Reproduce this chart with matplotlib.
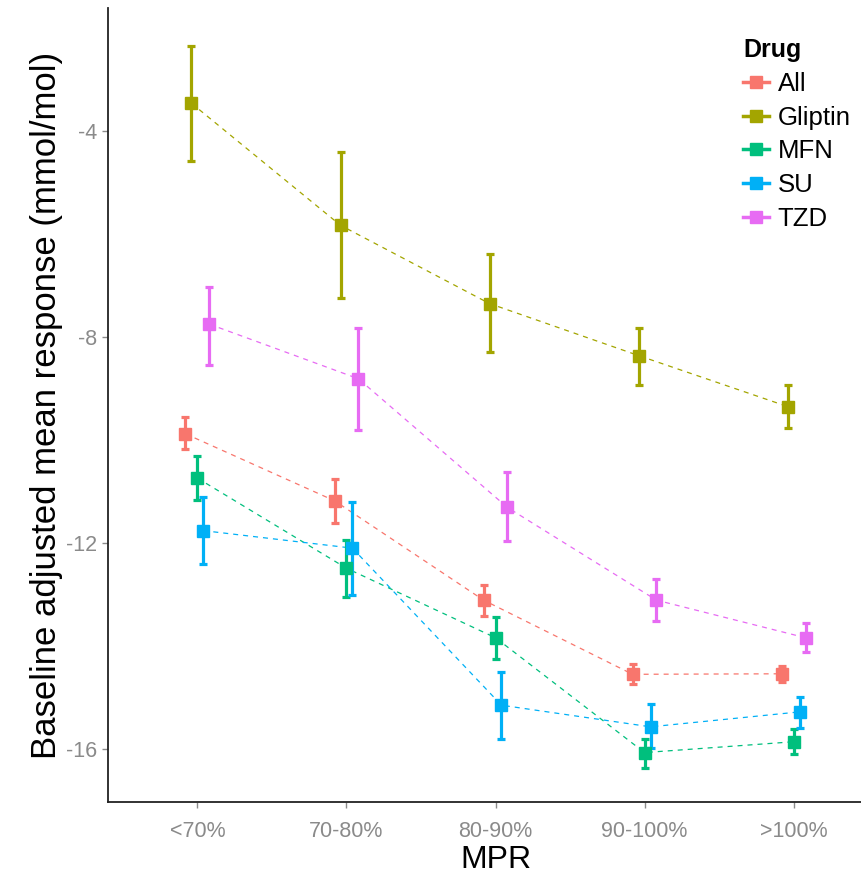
import matplotlib.pyplot as plt
import numpy as np
from matplotlib.lines import Line2D

plt.rcParams['font.family'] = ['Liberation Sans', 'DejaVu Sans']
plt.rcParams['axes.unicode_minus'] = False

# MPR categories and drug groups
mpr = ['<70%', '70-80%', '80-90%', '90-100%', '>100%']
drugs = ['All', 'Gliptin', 'MFN', 'SU', 'TZD']
colors = ['#F8766D', '#A3A500', '#00BF7D', '#00B0F6', '#E76BF3']

# adjusted mean response and interval limits per drug
all_mean = [-9.88, -11.18, -13.11, -14.55, -14.54]
all_lo = [-10.18, -11.62, -13.41, -14.74, -14.70]
all_hi = [-9.55, -10.76, -12.82, -14.35, -14.39]

gliptin_mean = [-3.46, -5.83, -7.35, -8.36, -9.35]
gliptin_lo = [-4.58, -7.24, -8.30, -8.93, -9.77]
gliptin_hi = [-2.35, -4.41, -6.39, -7.83, -8.93]

mfn_mean = [-10.74, -12.49, -13.84, -16.07, -15.86]
mfn_lo = [-11.17, -13.04, -14.25, -16.36, -16.10]
mfn_hi = [-10.32, -11.94, -13.44, -15.80, -15.61]

su_mean = [-11.76, -12.10, -15.15, -15.57, -15.28]
su_lo = [-12.41, -13.01, -15.81, -15.99, -15.59]
su_hi = [-11.10, -11.20, -14.51, -15.13, -14.99]

tzd_mean = [-7.75, -8.81, -11.31, -13.11, -13.84]
tzd_lo = [-8.54, -9.81, -11.97, -13.51, -14.11]
tzd_hi = [-7.02, -7.82, -10.62, -12.70, -13.56]

means = [all_mean, gliptin_mean, mfn_mean, su_mean, tzd_mean]
lows = [all_lo, gliptin_lo, mfn_lo, su_lo, tzd_lo]
highs = [all_hi, gliptin_hi, mfn_hi, su_hi, tzd_hi]

fig = plt.figure(figsize=(8.62, 8.77), dpi=100)
ax = fig.add_axes([108 / 862, 75 / 877, 775 / 862, 794 / 877])

x = np.arange(len(mpr))
offsets = np.linspace(-0.08, 0.08, len(drugs))

for i, drug in enumerate(drugs):
    m = np.array(means[i])
    lo = np.array(lows[i])
    hi = np.array(highs[i])
    xs = x + offsets[i]
    ax.plot(xs, m, color=colors[i], lw=0.9, dashes=(4, 4), zorder=2)
    ax.errorbar(xs, m, yerr=[m - lo, hi - m], fmt='none', ecolor=colors[i],
                elinewidth=2.3, capsize=3, capthick=2.3, zorder=3)
    ax.plot(xs, m, 's', color=colors[i], ms=8, zorder=4)

ax.set_xlim(-0.6, 4.6)
ax.set_ylim(-17.03, -1.61)
ax.set_xticks(x)
ax.set_xticklabels(mpr)
ax.set_yticks([-16, -12, -8, -4])

for side in ['top', 'right']:
    ax.spines[side].set_visible(False)
for side in ['left', 'bottom']:
    ax.spines[side].set_linewidth(1.3)
    ax.spines[side].set_color('#222222')

ax.tick_params(axis='both', colors='#8a8a8a', labelsize=15.5, length=4, width=1, direction='out')
ax.tick_params(axis='x', pad=10)
ax.tick_params(axis='y', pad=4)

ax.set_xlabel('MPR', fontsize=23, labelpad=2)
ax.set_ylabel('Baseline adjusted mean response (mmol/mol)', fontsize=25, labelpad=2)

handles = [Line2D([0], [0], color=c, lw=2.5, marker='s', ms=8) for c in colors]
leg = fig.legend(handles, drugs, title='Drug', loc='upper left',
                 bbox_to_anchor=(743 / 862, 1 - 38 / 877), frameon=False,
                 fontsize=18.5, handlelength=1.0, handletextpad=0.35,
                 labelspacing=0.38, borderaxespad=0, borderpad=0)
leg.get_title().set_fontweight('bold')
leg.get_title().set_fontsize(18)
leg._legend_box.align = 'left'

fig.savefig('out.png', dpi=100)
